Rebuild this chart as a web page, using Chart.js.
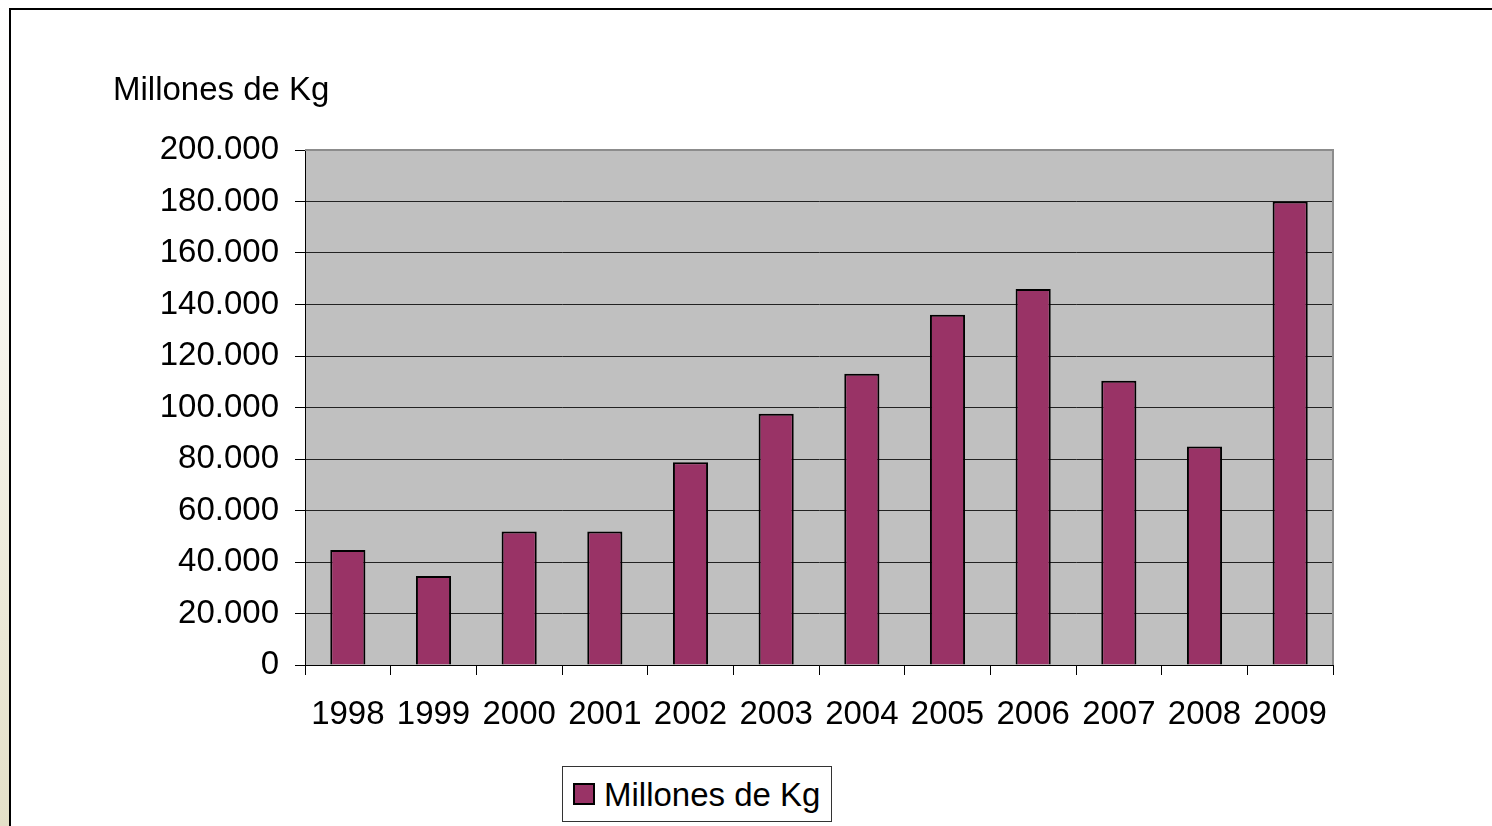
<!DOCTYPE html>
<html>
<head>
<meta charset="utf-8">
<script src="https://cdn.jsdelivr.net/npm/chart.js@4/dist/chart.umd.min.js"></script>
<style>
  html, body { margin: 0; padding: 0; background: #fff; }
  body { width: 1492px; height: 826px; position: relative; overflow: hidden; font-family: "Liberation Sans", Arial, sans-serif; }
  #strip { position: absolute; left: 0; top: 0; width: 9px; height: 826px;
           background: linear-gradient(to bottom, #ffffff 0px, #fbfaf6 200px, #e4e0c8 826px); }
  #frame { position: absolute; left: 9px; top: 8px; right: 0; bottom: 0;
           border-top: 2px solid #000; border-left: 2px solid #000; }
  #chart { position: absolute; left: 0; top: 0; }
  #legend { position: absolute; left: 562px; top: 766px; width: 270px; height: 56px;
            border: 1px solid #333; background: #fff; box-sizing: border-box;
            display: flex; align-items: center; }
  .lg-item { display: flex; align-items: center; margin-left: 10px; }
  .lg-box { width: 18px; height: 18px; border: 2px solid #000; margin-right: 9px; }
  .lg-text { font-size: 33px; color: #000; line-height: 1; }
</style>
</head>
<body>
<div id="strip"></div>
<div id="frame"></div>
<canvas id="chart" width="1492" height="826"></canvas>
<div id="legend"></div>
<script>
// Years and export volume (millions of kg)
const YEARS = ["1998", "1999", "2000", "2001", "2002", "2003", "2004", "2005", "2006", "2007", "2008", "2009"];
const KG = [44700, 34600, 51800, 51800, 78700, 97600, 113100, 136000, 146000, 110400, 84900, 180000];
const SERIES_LABEL = "Millones de Kg";
const Y_MIN = 0;
const Y_MAX = 200000;
const Y_STEP = 20000;

const FONT = { family: "'Liberation Sans', Arial, sans-serif", size: 33 };

// grey plot background + grey top/right frame
const plotFrame = {
  id: "plotFrame",
  beforeDraw(chart) {
    const { ctx, chartArea: a } = chart;
    ctx.save();
    ctx.fillStyle = "#c0c0c0";
    ctx.fillRect(a.left, a.top, a.right - a.left, a.bottom - a.top);
    ctx.restore();
  },
  beforeDatasetsDraw(chart) {
    const { ctx, chartArea: a } = chart;
    ctx.save();
    ctx.strokeStyle = "#8c8c8c";
    ctx.lineWidth = 2;
    ctx.beginPath();
    ctx.moveTo(a.left, a.top);
    ctx.lineTo(a.right, a.top);
    ctx.lineTo(a.right, a.bottom);
    ctx.stroke();
    ctx.restore();
  }
};

// legend rendered as html, items come from chart's own legend labels
const htmlLegend = {
  id: "htmlLegend",
  afterUpdate(chart) {
    const box = document.getElementById("legend");
    box.innerHTML = "";
    const items = chart.options.plugins.legend.labels.generateLabels(chart);
    items.forEach((item) => {
      const el = document.createElement("div");
      el.className = "lg-item";
      el.innerHTML = `<span class="lg-box" style="background:${item.fillStyle}"></span>` +
                     `<span class="lg-text">${item.text}</span>`;
      box.appendChild(el);
    });
  }
};

const ctx = document.getElementById("chart").getContext("2d");

new Chart(ctx, {
  type: "bar",
  data: {
    labels: YEARS,
    datasets: [{
      label: SERIES_LABEL,
      data: KG,
      backgroundColor: "#993366",
      borderColor: "#000",
      borderWidth: 2,
      categoryPercentage: 1.0,
      barPercentage: 0.41,
    }],
  },
  options: {
    responsive: false,
    animation: false,
    layout: { padding: { left: 113, right: 159, top: 0, bottom: 0 } },
    plugins: {
      legend: { display: false },
      tooltip: { enabled: false },
      title: {
        display: true,
        text: SERIES_LABEL,
        align: "start",
        color: "#000",
        font: { ...FONT, weight: "normal", lineHeight: 1.2 },
        padding: { top: 71, bottom: 39.4 },
      },
    },
    scales: {
      x: {
        grid: { drawOnChartArea: false, drawTicks: true, tickLength: 10, color: "#000", offset: true },
        border: { color: "#000", width: 1 },
        ticks: { color: "#000", font: FONT, padding: 20, maxRotation: 0, autoSkip: false },
        afterFit: (s) => { s.height = 161; },
      },
      y: {
        min: Y_MIN,
        max: Y_MAX,
        grid: { color: "#222", lineWidth: 1, tickLength: 10, tickColor: "#000" },
        border: { color: "#000", width: 1 },
        ticks: {
          stepSize: Y_STEP,
          color: "#000",
          font: FONT,
          padding: 16,
          callback: (v) => v.toLocaleString("de-DE"),
        },
        afterFit: (s) => { s.width = 192; },
      },
    },
  },
  plugins: [plotFrame, htmlLegend],
});
</script>
</body>
</html>
